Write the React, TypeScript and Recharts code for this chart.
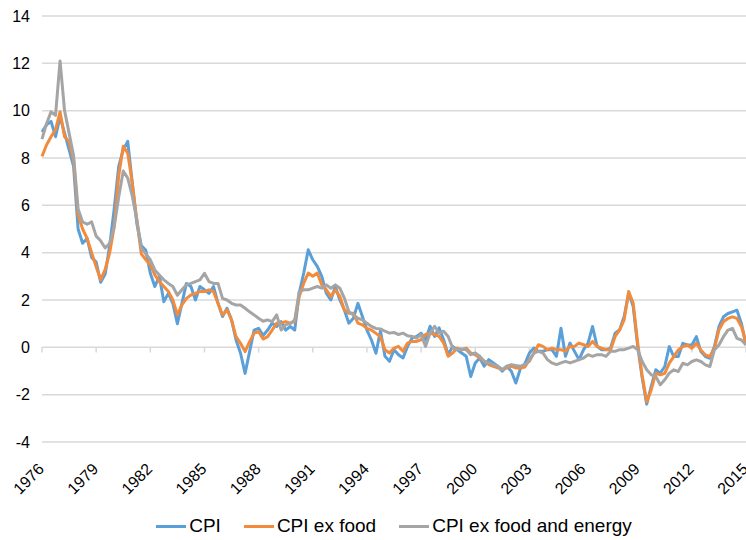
import {
  LineChart,
  Line,
  XAxis,
  YAxis,
  CartesianGrid,
  Legend,
  ReferenceLine,
} from "recharts";

// quarterly readings, first point = 1976 Q1, last point = 2015 Q1
const START_YEAR = 1976;

const cpi = [
  9.1, 9.4, 9.55, 8.9,
  9.75, 9.05, 8.35, 7.65,
  5.0, 4.4, 4.6, 3.8,
  3.6, 2.75, 3.1, 4.3,
  5.85, 7.65, 8.35, 8.7,
  6.95, 5.25, 4.3, 4.1,
  3.13, 2.57, 3.0, 1.93,
  2.28, 1.86, 1.0, 1.86,
  2.7, 2.57, 2.0, 2.57,
  2.43, 2.28, 2.57, 1.86,
  1.3, 1.65, 1.16, 0.31,
  -0.25, -1.1, -0.18, 0.73,
  0.8, 0.5, 0.73, 1.02,
  0.88, 1.09, 0.73, 0.88,
  0.73, 2.29, 3.14, 4.12,
  3.7, 3.42, 3.0, 2.29,
  2.0, 2.57, 2.0, 1.58,
  1.02, 1.23, 1.86, 1.3,
  0.73, 0.31, -0.25, 0.7,
  -0.38, -0.59, -0.1, -0.31,
  -0.45, 0.04, 0.39, 0.46,
  0.6, 0.32, 0.89, 0.46,
  0.82, 0.32, -0.31, 0.04,
  -0.1, -0.24, -0.38, -1.23,
  -0.66, -0.45, -0.8, -0.52,
  -0.66, -0.8, -1.01, -0.8,
  -1.01, -1.51, -0.9, -0.7,
  -0.24, -0.03, -0.17, -0.17,
  -0.1, -0.1, -0.38, 0.81,
  -0.38, 0.18, -0.17, -0.52,
  -0.1, 0.18, 0.88, 0.04,
  -0.1, -0.1, -0.03, 0.6,
  0.74, 1.3, 2.29, 1.73,
  0.04, -1.3, -2.4, -1.65,
  -0.95, -1.09, -0.81, 0.03,
  -0.39, -0.39, 0.17, 0.1,
  0.1, 0.45, -0.18, -0.39,
  -0.46, 0.03, 0.87, 1.29,
  1.43, 1.5, 1.57, 1.0,
  0.1,
];

const cpiExFood = [
  8.07, 8.55, 8.9, 9.2,
  9.95, 8.9, 8.7, 7.9,
  5.6, 5.0, 4.6, 4.0,
  3.4, 2.85, 3.3, 4.0,
  5.1, 7.25, 8.5, 8.2,
  6.95, 5.4, 3.95, 3.7,
  3.48, 3.06, 2.78, 2.57,
  2.36, 2.0, 1.37, 1.79,
  2.07, 2.21, 2.28, 2.36,
  2.36, 2.43, 2.36, 1.86,
  1.37, 1.58, 1.16, 0.45,
  0.17, -0.18, 0.24, 0.6,
  0.66, 0.35, 0.45, 0.73,
  1.02, 1.02, 1.09, 1.02,
  1.09, 2.15, 2.71, 3.14,
  3.0, 3.14, 2.64, 2.43,
  2.15, 2.43, 2.15, 1.58,
  1.44, 1.44, 1.02, 0.95,
  0.8, 0.73, 0.59, 0.45,
  -0.1, -0.24, -0.03, 0.04,
  -0.17, 0.18, 0.25, 0.25,
  0.32, 0.54, 0.6, 0.54,
  0.46, 0.18, -0.38, -0.24,
  -0.03, -0.1, -0.03, -0.24,
  -0.31, -0.45, -0.59, -0.73,
  -0.8, -0.87, -0.94, -0.87,
  -0.8, -0.87, -0.87, -0.83,
  -0.52, -0.24, 0.11, 0.04,
  -0.1, -0.03, -0.1, -0.1,
  -0.17, 0.04, 0.04, 0.18,
  0.11, 0.04, 0.25, 0.04,
  -0.03, -0.1, -0.1, 0.46,
  0.74, 1.16, 2.36, 1.87,
  0.18, -1.2, -2.3, -1.8,
  -1.1, -1.16, -1.1, -0.67,
  -0.39, -0.11, 0.03, 0.1,
  -0.04, 0.17, -0.11, -0.32,
  -0.39, -0.04, 0.73, 1.08,
  1.22, 1.29, 1.22, 0.87,
  0.2,
];

const cpiExFoodEnergy = [
  8.8, 9.45, 9.95, 9.8,
  12.1, 10.0, 9.05, 8.1,
  5.85, 5.3, 5.2, 5.3,
  4.7, 4.5, 4.2, 4.4,
  5.1, 6.35, 7.45, 7.15,
  6.4, 5.4, 4.2, 3.95,
  3.7, 3.27, 3.06, 2.85,
  2.7, 2.57, 2.2, 2.43,
  2.64, 2.7, 2.78, 2.85,
  3.13, 2.78, 2.7, 2.7,
  2.07, 2.0, 1.86, 1.79,
  1.79, 1.65, 1.5, 1.37,
  1.23, 1.1, 1.16, 1.09,
  1.37, 0.73, 0.95, 1.0,
  1.16, 2.36, 2.43, 2.43,
  2.5, 2.57, 2.5, 2.64,
  2.5, 2.64, 2.5, 2.08,
  1.5, 1.37, 1.23, 1.16,
  1.02, 0.88, 0.8, 0.78,
  0.68, 0.6, 0.63, 0.54,
  0.6, 0.49, 0.46, 0.39,
  0.54, 0.04, 0.6, 0.89,
  0.6, 0.68, 0.46, -0.03,
  -0.1, -0.07, -0.1, -0.31,
  -0.24, -0.38, -0.59, -0.66,
  -0.73, -0.8, -0.94, -0.8,
  -0.73, -0.77, -0.8, -0.73,
  -0.59, -0.24, -0.17, -0.24,
  -0.52, -0.66, -0.73, -0.66,
  -0.59, -0.66, -0.59, -0.52,
  -0.45, -0.31, -0.38, -0.31,
  -0.31, -0.38, -0.17, -0.17,
  -0.1, -0.1, -0.03, 0.04,
  -0.1, -0.6, -0.95, -1.16,
  -1.23, -1.58, -1.37, -1.09,
  -0.95, -1.02, -0.67, -0.74,
  -0.6, -0.53, -0.6, -0.74,
  -0.81, -0.11, 0.1, 0.45,
  0.73, 0.8, 0.38, 0.31,
  0.1,
];

const yearTicks = [1976, 1979, 1982, 1985, 1988, 1991, 1994, 1997, 2000, 2003, 2006, 2009, 2012, 2015];
const valueTicks = [-4, -2, 0, 2, 4, 6, 8, 10, 12, 14];

const series = [
  { key: "cpi", name: "CPI", color: "#5B9FD9" },
  { key: "exFood", name: "CPI ex food", color: "#F38B3C" },
  { key: "exFoodEnergy", name: "CPI ex food and energy", color: "#A5A5A5" },
];

const data = cpi.map((v, i) => ({
  t: START_YEAR + i / 4,
  cpi: v,
  exFood: cpiExFood[i],
  exFoodEnergy: cpiExFoodEnergy[i],
}));

const FONT = "Arial, 'Liberation Sans', sans-serif";
const GRID = "#d9d9d9";

const YearTick = ({ x, y, payload }: { x: number; y: number; payload: { value: number } }) => (
  <text
    x={x - 1}
    y={y}
    dy="0.36em"
    textAnchor="end"
    transform={`rotate(-45 ${x - 1} ${y})`}
    fontSize={16}
    fontFamily={FONT}
    fill="#000"
  >
    {payload.value}
  </text>
);

const LegendBox = () => (
  <div
    style={{
      height: 28,
      paddingLeft: 42,
      display: "flex",
      justifyContent: "center",
      alignItems: "center",
      fontFamily: FONT,
      fontSize: 19,
      color: "#000",
    }}
  >
    {series.map((s, i) => (
      <div key={s.key} style={{ display: "flex", alignItems: "center", marginLeft: i ? 23 : 0 }}>
        <span style={{ width: 30, height: 3, background: s.color, marginRight: 3 }} />
        <span>{s.name}</span>
      </div>
    ))}
  </div>
);

export default function App() {
  return (
    <div style={{ position: "absolute", left: 0, top: 0 }}>
      <LineChart width={746} height={540} data={data} margin={{ top: 16, right: 0, bottom: 0, left: 0 }}>
        <CartesianGrid vertical={false} stroke={GRID} strokeWidth={1.5} />
        <XAxis
          dataKey="t"
          type="number"
          domain={[1976, 2015]}
          ticks={yearTicks}
          interval={0}
          axisLine={false}
          tickLine={false}
          tickSize={0}
          tickMargin={24}
          height={70}
          tick={YearTick}
        />
        <YAxis
          domain={[-4, 14]}
          ticks={valueTicks}
          interval={0}
          width={42}
          axisLine={false}
          tickLine={false}
          tickSize={0}
          tickMargin={12}
          tick={{ fontSize: 16, fontFamily: FONT, fill: "#000" }}
        />
        {yearTicks.map((yr) => (
          <ReferenceLine
            key={yr}
            segment={[
              { x: yr, y: 0 },
              { x: yr, y: -0.22 },
            ]}
            stroke={GRID}
            strokeWidth={1.5}
          />
        ))}
        <Legend verticalAlign="bottom" height={28} content={LegendBox} />
        {series.map((s) => (
          <Line
            key={s.key}
            type="linear"
            dataKey={s.key}
            name={s.name}
            stroke={s.color}
            strokeWidth={3}
            strokeLinejoin="round"
            dot={false}
            activeDot={false}
            isAnimationActive={false}
          />
        ))}
      </LineChart>
    </div>
  );
}
